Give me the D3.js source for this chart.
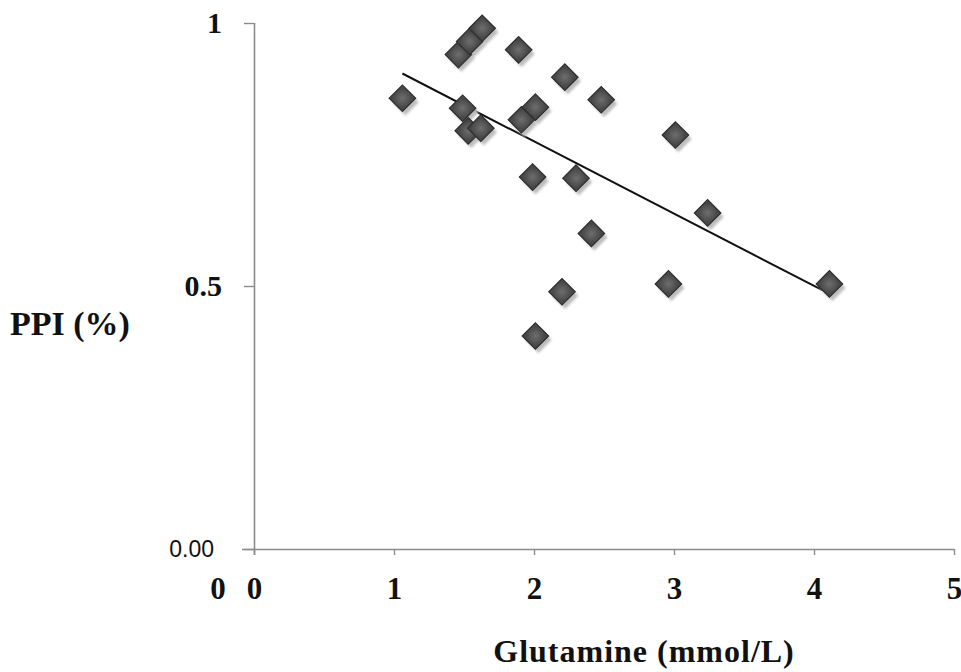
<!DOCTYPE html>
<html>
<head>
<meta charset="utf-8">
<script src="https://cdn.jsdelivr.net/npm/d3@7"></script>
<style>
  html, body { margin: 0; padding: 0; background: #fff; }
  svg { display: block; }
</style>
</head>
<body>
<svg id="chart" width="961" height="672"></svg>
<script>
// ---- data ----
const glutamine = [1.06, 1.46, 1.54, 1.63, 1.89, 2.22, 2.48, 1.49, 1.53, 1.62, 1.91, 2.01, 3.01, 1.99, 2.30, 3.24, 2.41, 2.20, 2.96, 4.11, 2.01];
const ppi       = [0.857, 0.94, 0.965, 0.99, 0.949, 0.897, 0.854, 0.838, 0.795, 0.80, 0.816, 0.84, 0.787, 0.707, 0.705, 0.639, 0.60, 0.489, 0.504, 0.504, 0.405];
const trendX = [1.06, 4.06];
const trendY = [0.904, 0.492];
const xTicks = [0, 1, 2, 3, 4, 5];
const yTicks = [0, 0.5, 1];
const yTickLabels = ["0.00", "0.5", "1"];
const xTitle = "Glutamine (mmol/L)";
const yTitle = "PPI (%)";

// ---- layout ----
const svg = d3.select("#chart");
const x = d3.scaleLinear().domain([0, 5]).range([254, 954]);
const y = d3.scaleLinear().domain([0, 1]).range([549, 23]);

const axisColor = "#8c8c8c";
const serif = "'Liberation Serif', 'Times New Roman', serif";

// x axis
const xAxis = svg.append("g").attr("transform", `translate(0,${y(0)})`)
  .call(d3.axisBottom(x).tickValues(xTicks).tickSize(6).tickFormat(d3.format("d")));
xAxis.select(".domain").attr("stroke", axisColor).attr("stroke-width", 1.6)
  .attr("d", `M${x(0) - 12},0.5H${x(5)}`);
xAxis.selectAll(".tick line").attr("stroke", axisColor).attr("stroke-width", 1.4);
xAxis.selectAll(".tick text")
  .attr("font-family", serif).attr("font-weight", "bold").attr("font-size", 31)
  .attr("fill", "#111").attr("dy", 0).attr("y", 50);

// y axis
const yAxis = svg.append("g").attr("transform", `translate(${x(0)},0)`)
  .call(d3.axisLeft(y).tickValues(yTicks).tickSize(10).tickFormat((d, i) => yTickLabels[i]));
yAxis.select(".domain").attr("stroke", axisColor).attr("stroke-width", 1.6)
  .attr("d", `M0.5,${y(1)}V${y(0) + 6}`);
yAxis.selectAll(".tick line").attr("stroke", axisColor).attr("stroke-width", 1.4);
yAxis.selectAll(".tick text")
  .attr("fill", "#111")
  .attr("x", d => d === 0 ? -40 : -32)
  .attr("font-family", d => d === 0 ? "'Liberation Sans', Arial, sans-serif" : serif)
  .attr("font-weight", d => d === 0 ? "normal" : "bold")
  .attr("font-size", d => d === 0 ? 23 : 30);

// stray "0" at the origin
svg.append("text").attr("x", 218).attr("y", y(0) + 50)
  .attr("text-anchor", "middle").attr("font-family", serif).attr("font-weight", "bold")
  .attr("font-size", 31).attr("fill", "#111").text("0");

// trend line
svg.append("line")
  .attr("x1", x(trendX[0])).attr("y1", y(trendY[0]))
  .attr("x2", x(trendX[1])).attr("y2", y(trendY[1]))
  .attr("stroke", "#111").attr("stroke-width", 2);

// markers
const defs = svg.append("defs");
const grad = defs.append("radialGradient").attr("id", "mk");
grad.append("stop").attr("offset", "0%").attr("stop-color", "#6e6e6e");
grad.append("stop").attr("offset", "100%").attr("stop-color", "#484848");
defs.append("filter").attr("id", "blur").append("feGaussianBlur").attr("stdDeviation", 1.2);

const pts = glutamine.map((g, i) => ({ g, p: ppi[i] }));
const sym = d3.symbol().type(d3.symbolSquare).size(350);

svg.append("g").selectAll("path").data(pts).join("path")
  .attr("d", sym)
  .attr("transform", d => `translate(${x(d.g) + 3},${y(d.p) + 4}) rotate(45)`)
  .attr("fill", "#bdbdbd").attr("filter", "url(#blur)");

svg.append("g").selectAll("path").data(pts).join("path")
  .attr("d", sym)
  .attr("transform", d => `translate(${x(d.g)},${y(d.p)}) rotate(45)`)
  .attr("fill", "url(#mk)").attr("stroke", "#2e2e2e").attr("stroke-width", 1.2);

// titles
svg.append("text").attr("x", 644).attr("y", 662).attr("text-anchor", "middle")
  .attr("font-family", serif).attr("font-weight", "bold").attr("font-size", 32)
  .attr("letter-spacing", 1).attr("fill", "#111").text(xTitle);
svg.append("text").attr("x", 10).attr("y", 335)
  .attr("font-family", serif).attr("font-weight", "bold").attr("font-size", 34)
  .attr("fill", "#111").text(yTitle);
</script>
</body>
</html>
